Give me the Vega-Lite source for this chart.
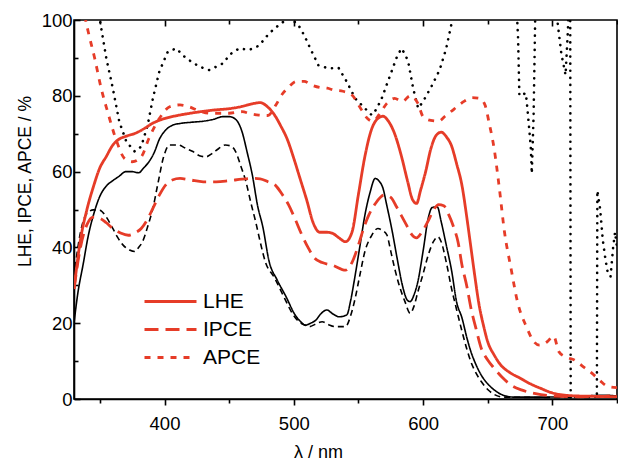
{
"$schema": "https://vega.github.io/schema/vega-lite/v6.json",
"width": 543, "height": 379,
"autosize": {"type": "none"},
"padding": {"left": 74, "top": 20, "right": 1, "bottom": 63},
"background": "white",
"config": {"font": "Liberation Sans", "view": {"stroke": "black", "strokeWidth": 1.6},
  "axis": {"grid": false, "labelColor": "black", "tickColor": "black", "domainColor": "black", "titleColor": "black", "labelFont": "Liberation Sans", "titleFont": "Liberation Sans", "titleFontWeight": "normal", "tickWidth": 1.6, "domainWidth": 1.6}},
"datasets": {
"red": [
{"s":"LHE","x":330,"y":29},{"s":"LHE","x":335,"y":42},{"s":"LHE","x":340,"y":50},{"s":"LHE","x":345,"y":56},{"s":"LHE","x":350,"y":61},{"s":"LHE","x":355,"y":64},{"s":"LHE","x":360,"y":67},{"s":"LHE","x":365,"y":68.6},{"s":"LHE","x":370,"y":69.3},{"s":"LHE","x":378,"y":70.2},{"s":"LHE","x":385,"y":71.5},{"s":"LHE","x":390,"y":72.6},{"s":"LHE","x":395,"y":73.4},{"s":"LHE","x":400,"y":74},{"s":"LHE","x":410,"y":74.8},{"s":"LHE","x":420,"y":75.4},{"s":"LHE","x":430,"y":75.9},{"s":"LHE","x":440,"y":76.3},{"s":"LHE","x":450,"y":76.6},{"s":"LHE","x":460,"y":77.2},{"s":"LHE","x":468,"y":77.9},{"s":"LHE","x":474,"y":78.2},{"s":"LHE","x":480,"y":77},{"s":"LHE","x":485,"y":75},{"s":"LHE","x":490,"y":72},{"s":"LHE","x":495,"y":68.5},{"s":"LHE","x":500,"y":63.5},{"s":"LHE","x":505,"y":58},{"s":"LHE","x":510,"y":52.5},{"s":"LHE","x":515,"y":46.5},{"s":"LHE","x":520,"y":44},{"s":"LHE","x":525,"y":44},{"s":"LHE","x":530,"y":43.7},{"s":"LHE","x":535,"y":42.5},{"s":"LHE","x":540,"y":41.5},{"s":"LHE","x":545,"y":44},{"s":"LHE","x":550,"y":54},{"s":"LHE","x":555,"y":64},{"s":"LHE","x":560,"y":71},{"s":"LHE","x":565,"y":74},{"s":"LHE","x":569,"y":74.6},{"s":"LHE","x":573,"y":73.4},{"s":"LHE","x":578,"y":70},{"s":"LHE","x":583,"y":64.4},{"s":"LHE","x":588,"y":57.5},{"s":"LHE","x":592,"y":52.5},{"s":"LHE","x":595,"y":51.6},{"s":"LHE","x":598,"y":55},{"s":"LHE","x":602,"y":60},{"s":"LHE","x":606,"y":66},{"s":"LHE","x":610,"y":69.5},{"s":"LHE","x":614,"y":70.4},{"s":"LHE","x":618,"y":69.2},{"s":"LHE","x":622,"y":66.8},{"s":"LHE","x":626,"y":62},{"s":"LHE","x":630,"y":56.5},{"s":"LHE","x":634,"y":47.5},{"s":"LHE","x":637,"y":40},{"s":"LHE","x":640,"y":32.5},{"s":"LHE","x":643,"y":25.5},{"s":"LHE","x":647,"y":19},{"s":"LHE","x":650,"y":15.1},{"s":"LHE","x":655,"y":11.6},{"s":"LHE","x":660,"y":9},{"s":"LHE","x":667,"y":7},{"s":"LHE","x":675,"y":5.5},{"s":"LHE","x":683,"y":4},{"s":"LHE","x":691,"y":2.8},{"s":"LHE","x":700,"y":1.6},{"s":"LHE","x":710,"y":1.0},{"s":"LHE","x":720,"y":0.8},{"s":"LHE","x":735,"y":0.7},{"s":"LHE","x":750,"y":0.6},
{"s":"IPCE","x":330,"y":29},{"s":"IPCE","x":335,"y":40},{"s":"IPCE","x":340,"y":46},{"s":"IPCE","x":345,"y":48},{"s":"IPCE","x":350,"y":47.7},{"s":"IPCE","x":355,"y":46.5},{"s":"IPCE","x":360,"y":45},{"s":"IPCE","x":366,"y":43.8},{"s":"IPCE","x":372,"y":43.2},{"s":"IPCE","x":377,"y":43.8},{"s":"IPCE","x":382,"y":45},{"s":"IPCE","x":387,"y":47.5},{"s":"IPCE","x":391,"y":50.3},{"s":"IPCE","x":396,"y":53.8},{"s":"IPCE","x":401,"y":56.5},{"s":"IPCE","x":406,"y":57.8},{"s":"IPCE","x":412,"y":58.2},{"s":"IPCE","x":420,"y":57.8},{"s":"IPCE","x":430,"y":57.3},{"s":"IPCE","x":440,"y":57.3},{"s":"IPCE","x":450,"y":57.6},{"s":"IPCE","x":460,"y":58},{"s":"IPCE","x":468,"y":58.2},{"s":"IPCE","x":474,"y":58.1},{"s":"IPCE","x":480,"y":57.3},{"s":"IPCE","x":486,"y":56.3},{"s":"IPCE","x":491,"y":54},{"s":"IPCE","x":496,"y":51.2},{"s":"IPCE","x":501,"y":47.5},{"s":"IPCE","x":506,"y":43.5},{"s":"IPCE","x":511,"y":40},{"s":"IPCE","x":516,"y":37.2},{"s":"IPCE","x":522,"y":36},{"s":"IPCE","x":530,"y":35.3},{"s":"IPCE","x":540,"y":34},{"s":"IPCE","x":545,"y":36},{"s":"IPCE","x":550,"y":40.6},{"s":"IPCE","x":554,"y":45},{"s":"IPCE","x":558,"y":48.5},{"s":"IPCE","x":563,"y":51.5},{"s":"IPCE","x":570,"y":53.8},{"s":"IPCE","x":575,"y":53.2},{"s":"IPCE","x":579,"y":51},{"s":"IPCE","x":583,"y":48.5},{"s":"IPCE","x":587,"y":46},{"s":"IPCE","x":591,"y":43.5},{"s":"IPCE","x":595,"y":42.5},{"s":"IPCE","x":599,"y":44},{"s":"IPCE","x":604,"y":47},{"s":"IPCE","x":608,"y":49.8},{"s":"IPCE","x":612,"y":51.3},{"s":"IPCE","x":616,"y":51},{"s":"IPCE","x":620,"y":48.5},{"s":"IPCE","x":624,"y":45},{"s":"IPCE","x":627,"y":41.5},{"s":"IPCE","x":630,"y":35.5},{"s":"IPCE","x":634,"y":29.5},{"s":"IPCE","x":637,"y":24},{"s":"IPCE","x":641,"y":18.5},{"s":"IPCE","x":645,"y":13.4},{"s":"IPCE","x":650,"y":10.3},{"s":"IPCE","x":655,"y":8.1},{"s":"IPCE","x":661,"y":5.8},{"s":"IPCE","x":668,"y":3.7},{"s":"IPCE","x":676,"y":2.4},{"s":"IPCE","x":686,"y":1.5},{"s":"IPCE","x":700,"y":0.8},{"s":"IPCE","x":720,"y":0.6},{"s":"IPCE","x":740,"y":0.7},{"s":"IPCE","x":750,"y":1.0},
{"s":"APCE","x":330,"y":125},{"s":"APCE","x":335,"y":110},{"s":"APCE","x":339,"y":100},{"s":"APCE","x":341,"y":96.9},{"s":"APCE","x":346,"y":89.9},{"s":"APCE","x":351,"y":82},{"s":"APCE","x":356,"y":75.8},{"s":"APCE","x":363,"y":68},{"s":"APCE","x":369,"y":63.5},{"s":"APCE","x":375,"y":62.6},{"s":"APCE","x":382,"y":63.9},{"s":"APCE","x":388,"y":68.8},{"s":"APCE","x":396,"y":74},{"s":"APCE","x":404,"y":77.1},{"s":"APCE","x":412,"y":77.6},{"s":"APCE","x":419,"y":77.1},{"s":"APCE","x":427,"y":76},{"s":"APCE","x":435,"y":75.4},{"s":"APCE","x":450,"y":75.4},{"s":"APCE","x":460,"y":75.8},{"s":"APCE","x":467,"y":75.2},{"s":"APCE","x":473,"y":74.9},{"s":"APCE","x":480,"y":74.8},{"s":"APCE","x":486,"y":77.5},{"s":"APCE","x":491,"y":80.4},{"s":"APCE","x":496,"y":82.3},{"s":"APCE","x":502,"y":83.8},{"s":"APCE","x":508,"y":83.8},{"s":"APCE","x":514,"y":82.8},{"s":"APCE","x":520,"y":82.2},{"s":"APCE","x":526,"y":82},{"s":"APCE","x":531,"y":81.5},{"s":"APCE","x":538,"y":81.2},{"s":"APCE","x":545,"y":80.2},{"s":"APCE","x":552,"y":76.5},{"s":"APCE","x":557,"y":74},{"s":"APCE","x":561,"y":73.3},{"s":"APCE","x":566,"y":75},{"s":"APCE","x":572,"y":78},{"s":"APCE","x":578,"y":79.3},{"s":"APCE","x":584,"y":78.5},{"s":"APCE","x":590,"y":80},{"s":"APCE","x":596,"y":78},{"s":"APCE","x":600,"y":74.5},{"s":"APCE","x":606,"y":73.5},{"s":"APCE","x":612,"y":73.3},{"s":"APCE","x":617,"y":74.6},{"s":"APCE","x":624,"y":76.5},{"s":"APCE","x":632,"y":78.6},{"s":"APCE","x":638,"y":79.5},{"s":"APCE","x":644,"y":79.3},{"s":"APCE","x":648,"y":77.5},{"s":"APCE","x":651,"y":73},{"s":"APCE","x":655,"y":66},{"s":"APCE","x":659,"y":55.6},{"s":"APCE","x":663,"y":44},{"s":"APCE","x":668,"y":34.5},{"s":"APCE","x":673,"y":25.7},{"s":"APCE","x":680,"y":19},{"s":"APCE","x":686,"y":15},{"s":"APCE","x":690,"y":14.2},{"s":"APCE","x":696,"y":15.1},{"s":"APCE","x":701,"y":16.6},{"s":"APCE","x":705,"y":12.5},{"s":"APCE","x":711,"y":11},{"s":"APCE","x":717,"y":10.3},{"s":"APCE","x":724,"y":8.5},{"s":"APCE","x":731,"y":6.7},{"s":"APCE","x":737,"y":4.8},{"s":"APCE","x":743,"y":3.3},{"s":"APCE","x":750,"y":3.0}
],
"black": [
{"s":"bLHE","x":330,"y":20},{"s":"bLHE","x":333,"y":28},{"s":"bLHE","x":337,"y":35.4},{"s":"bLHE","x":341,"y":43},{"s":"bLHE","x":345,"y":48.5},{"s":"bLHE","x":350,"y":53.5},{"s":"bLHE","x":355,"y":56.2},{"s":"bLHE","x":360,"y":57.6},{"s":"bLHE","x":365,"y":58.8},{"s":"bLHE","x":370,"y":60},{"s":"bLHE","x":375,"y":60},{"s":"bLHE","x":380,"y":59.7},{"s":"bLHE","x":384,"y":61},{"s":"bLHE","x":388,"y":62.6},{"s":"bLHE","x":392,"y":65},{"s":"bLHE","x":396,"y":68.5},{"s":"bLHE","x":401,"y":71},{"s":"bLHE","x":406,"y":72.2},{"s":"bLHE","x":412,"y":72.7},{"s":"bLHE","x":420,"y":73},{"s":"bLHE","x":430,"y":73.3},{"s":"bLHE","x":438,"y":73.8},{"s":"bLHE","x":445,"y":74.5},{"s":"bLHE","x":450,"y":74.5},{"s":"bLHE","x":455,"y":73.8},{"s":"bLHE","x":460,"y":70.5},{"s":"bLHE","x":464,"y":65},{"s":"bLHE","x":468,"y":59},{"s":"bLHE","x":472,"y":51},{"s":"bLHE","x":476,"y":45.5},{"s":"bLHE","x":481,"y":36.2},{"s":"bLHE","x":487,"y":31.5},{"s":"bLHE","x":494,"y":27},{"s":"bLHE","x":501,"y":22.2},{"s":"bLHE","x":505,"y":20.5},{"s":"bLHE","x":509,"y":19.5},{"s":"bLHE","x":513,"y":20},{"s":"bLHE","x":517,"y":20.8},{"s":"bLHE","x":521,"y":22.5},{"s":"bLHE","x":525.6,"y":23.5},{"s":"bLHE","x":530,"y":22.5},{"s":"bLHE","x":535,"y":21.7},{"s":"bLHE","x":541,"y":22.2},{"s":"bLHE","x":544,"y":26},{"s":"bLHE","x":547.5,"y":32.7},{"s":"bLHE","x":551,"y":40},{"s":"bLHE","x":555,"y":48.5},{"s":"bLHE","x":559,"y":54.5},{"s":"bLHE","x":563,"y":58.2},{"s":"bLHE","x":566,"y":57.5},{"s":"bLHE","x":569,"y":55.6},{"s":"bLHE","x":572,"y":51},{"s":"bLHE","x":576,"y":44.5},{"s":"bLHE","x":580,"y":37},{"s":"bLHE","x":584,"y":30},{"s":"bLHE","x":588,"y":26},{"s":"bLHE","x":590,"y":25.7},{"s":"bLHE","x":593,"y":27.5},{"s":"bLHE","x":596,"y":31},{"s":"bLHE","x":600,"y":39},{"s":"bLHE","x":604,"y":47.7},{"s":"bLHE","x":607,"y":50.5},{"s":"bLHE","x":611,"y":50.7},{"s":"bLHE","x":614,"y":46.8},{"s":"bLHE","x":618,"y":40.5},{"s":"bLHE","x":622,"y":34},{"s":"bLHE","x":626,"y":25.5},{"s":"bLHE","x":630,"y":21.5},{"s":"bLHE","x":634,"y":16},{"s":"bLHE","x":637,"y":12.5},{"s":"bLHE","x":641,"y":9},{"s":"bLHE","x":645,"y":6.3},{"s":"bLHE","x":650,"y":4},{"s":"bLHE","x":655,"y":2.4},{"s":"bLHE","x":662,"y":1},{"s":"bLHE","x":670,"y":0.5},{"s":"bLHE","x":690,"y":0.5},{"s":"bLHE","x":710,"y":0.6},{"s":"bLHE","x":725,"y":0.8},{"s":"bLHE","x":740,"y":1.0},{"s":"bLHE","x":750,"y":0.8},
{"s":"bIPCE","x":330,"y":32},{"s":"bIPCE","x":333,"y":40},{"s":"bIPCE","x":337,"y":46.8},{"s":"bIPCE","x":341,"y":49.3},{"s":"bIPCE","x":345,"y":49.9},{"s":"bIPCE","x":350,"y":49.8},{"s":"bIPCE","x":355,"y":48},{"s":"bIPCE","x":360,"y":45},{"s":"bIPCE","x":364,"y":42.5},{"s":"bIPCE","x":368,"y":40.6},{"s":"bIPCE","x":373,"y":39.3},{"s":"bIPCE","x":377,"y":38.9},{"s":"bIPCE","x":380,"y":40},{"s":"bIPCE","x":383,"y":41.5},{"s":"bIPCE","x":387,"y":45.5},{"s":"bIPCE","x":391,"y":50.3},{"s":"bIPCE","x":395,"y":57},{"s":"bIPCE","x":399,"y":63.5},{"s":"bIPCE","x":404,"y":67},{"s":"bIPCE","x":411,"y":67},{"s":"bIPCE","x":416,"y":66.2},{"s":"bIPCE","x":422,"y":65.3},{"s":"bIPCE","x":427,"y":64.2},{"s":"bIPCE","x":432,"y":63.9},{"s":"bIPCE","x":437,"y":64.8},{"s":"bIPCE","x":442,"y":66.1},{"s":"bIPCE","x":447,"y":67},{"s":"bIPCE","x":451,"y":66.8},{"s":"bIPCE","x":455,"y":65.3},{"s":"bIPCE","x":459,"y":61.5},{"s":"bIPCE","x":463,"y":57.3},{"s":"bIPCE","x":467,"y":51.5},{"s":"bIPCE","x":470.5,"y":46.8},{"s":"bIPCE","x":474,"y":41.5},{"s":"bIPCE","x":478,"y":36.2},{"s":"bIPCE","x":485,"y":32},{"s":"bIPCE","x":493,"y":26.5},{"s":"bIPCE","x":499,"y":22.5},{"s":"bIPCE","x":504,"y":20.4},{"s":"bIPCE","x":508,"y":19.6},{"s":"bIPCE","x":512,"y":19.1},{"s":"bIPCE","x":517,"y":19.8},{"s":"bIPCE","x":522,"y":20.4},{"s":"bIPCE","x":527,"y":19.6},{"s":"bIPCE","x":532,"y":19.1},{"s":"bIPCE","x":540,"y":19.1},{"s":"bIPCE","x":544,"y":22},{"s":"bIPCE","x":547.5,"y":26.6},{"s":"bIPCE","x":551,"y":32.5},{"s":"bIPCE","x":555,"y":38.9},{"s":"bIPCE","x":560,"y":43},{"s":"bIPCE","x":565,"y":45},{"s":"bIPCE","x":568,"y":44.6},{"s":"bIPCE","x":572,"y":43.3},{"s":"bIPCE","x":575,"y":39},{"s":"bIPCE","x":578,"y":34.5},{"s":"bIPCE","x":582,"y":29.5},{"s":"bIPCE","x":586,"y":25.7},{"s":"bIPCE","x":590,"y":22.6},{"s":"bIPCE","x":593,"y":24.5},{"s":"bIPCE","x":596,"y":28.3},{"s":"bIPCE","x":600,"y":33},{"s":"bIPCE","x":604,"y":38},{"s":"bIPCE","x":608,"y":41.5},{"s":"bIPCE","x":611.5,"y":42.8},{"s":"bIPCE","x":614,"y":41.5},{"s":"bIPCE","x":618,"y":36},{"s":"bIPCE","x":622,"y":29.2},{"s":"bIPCE","x":626,"y":23.5},{"s":"bIPCE","x":630,"y":18},{"s":"bIPCE","x":634,"y":13},{"s":"bIPCE","x":637,"y":9.8},{"s":"bIPCE","x":641,"y":6.8},{"s":"bIPCE","x":645,"y":4.6},{"s":"bIPCE","x":650,"y":2.5},{"s":"bIPCE","x":655,"y":1.2},{"s":"bIPCE","x":662,"y":0.5},{"s":"bIPCE","x":700,"y":0.4},{"s":"bIPCE","x":750,"y":0.5}
],
"blackdot": [
{"s":"bAPCE","x":330,"y":140},{"s":"bAPCE","x":345,"y":112},{"s":"bAPCE","x":350,"y":100},{"s":"bAPCE","x":355,"y":89.9},{"s":"bAPCE","x":360,"y":82},{"s":"bAPCE","x":365,"y":73.2},{"s":"bAPCE","x":370.5,"y":67.9},{"s":"bAPCE","x":377,"y":65.3},{"s":"bAPCE","x":382,"y":66.6},{"s":"bAPCE","x":387,"y":72.3},{"s":"bAPCE","x":391,"y":79.3},{"s":"bAPCE","x":396,"y":86.4},{"s":"bAPCE","x":402.5,"y":91.6},{"s":"bAPCE","x":409,"y":92.5},{"s":"bAPCE","x":416.7,"y":89.9},{"s":"bAPCE","x":427,"y":87.7},{"s":"bAPCE","x":434.6,"y":86.8},{"s":"bAPCE","x":445,"y":88.5},{"s":"bAPCE","x":451,"y":91},{"s":"bAPCE","x":457.7,"y":92.5},{"s":"bAPCE","x":465.4,"y":92.1},{"s":"bAPCE","x":473,"y":93.2},{"s":"bAPCE","x":481,"y":96.5},{"s":"bAPCE","x":488.5,"y":98.7},{"s":"bAPCE","x":496,"y":100.5},{"s":"bAPCE","x":503,"y":99},{"s":"bAPCE","x":508,"y":96},{"s":"bAPCE","x":514,"y":91.6},{"s":"bAPCE","x":519,"y":88.1},{"s":"bAPCE","x":527,"y":87.2},{"s":"bAPCE","x":534.6,"y":87.4},{"s":"bAPCE","x":541,"y":83.7},{"s":"bAPCE","x":547.5,"y":79.3},{"s":"bAPCE","x":555,"y":76.7},{"s":"bAPCE","x":560.3,"y":74.9},{"s":"bAPCE","x":564,"y":76.5},{"s":"bAPCE","x":568,"y":79.3},{"s":"bAPCE","x":575.6,"y":86.4},{"s":"bAPCE","x":580,"y":90.5},{"s":"bAPCE","x":583.3,"y":92.5},{"s":"bAPCE","x":586,"y":91},{"s":"bAPCE","x":588.5,"y":89},{"s":"bAPCE","x":592.3,"y":82},{"s":"bAPCE","x":596.2,"y":76.7},{"s":"bAPCE","x":600,"y":78.5},{"s":"bAPCE","x":606.4,"y":82.4},{"s":"bAPCE","x":612.8,"y":86.8},{"s":"bAPCE","x":617.9,"y":92.5},{"s":"bAPCE","x":621.8,"y":98.7},{"s":"bAPCE","x":626,"y":106},{"s":"bAPCE","x":640,"y":120},{"s":"bAPCE","x":660,"y":120},{"s":"bAPCE","x":672,"y":106},{"s":"bAPCE","x":673.5,"y":95},{"s":"bAPCE","x":674.5,"y":80},{"s":"bAPCE","x":679.5,"y":80.7},{"s":"bAPCE","x":680.8,"y":76.3},{"s":"bAPCE","x":683.3,"y":66.6},{"s":"bAPCE","x":684.1,"y":59.5},{"s":"bAPCE","x":685.5,"y":75},{"s":"bAPCE","x":686.7,"y":100},{"s":"bAPCE","x":688,"y":115},{"s":"bAPCE","x":700,"y":115},{"s":"bAPCE","x":703.8,"y":100},{"s":"bAPCE","x":707,"y":91},{"s":"bAPCE","x":710.2,"y":85.5},{"s":"bAPCE","x":712,"y":97},{"s":"bAPCE","x":713,"y":110},{"s":"bAPCE","x":713.8,"y":110},{"s":"bAPCE","x":714.2,"y":-5},{"s":"bAPCE","x":734.4,"y":-5},{"s":"bAPCE","x":734.8,"y":55},{"s":"bAPCE","x":737,"y":50},{"s":"bAPCE","x":739,"y":42},{"s":"bAPCE","x":741,"y":37},{"s":"bAPCE","x":743,"y":33},{"s":"bAPCE","x":745,"y":32.3},{"s":"bAPCE","x":747,"y":40},{"s":"bAPCE","x":748.5,"y":44},{"s":"bAPCE","x":750,"y":40}
]
},
"layer": [
{
 "data": {"name": "black"},
 "mark": {"type": "line", "clip": true, "color": "black", "strokeWidth": 1.6, "interpolate": "monotone"},
 "encoding": {
  "x": {"field": "x", "type": "quantitative", "scale": {"domain": [330, 750], "nice": false, "zero": false},
        "axis": {"orient": "bottom", "values": [400, 500, 600, 700], "tickSize": 6, "labelFontSize": 18.5, "labelPadding": 9, "title": "λ / nm", "titleFontSize": 18, "titleX": 244, "titleY": 44, "titleBaseline": "top", "titleAnchor": null, "titleAlign": "center", "domain": true}},
  "y": {"field": "y", "type": "quantitative", "scale": {"domain": [0, 100], "nice": false, "zero": false},
        "axis": {"orient": "left", "values": [0, 20, 40, 60, 80, 100], "tickSize": -6, "labelFontSize": 18.5, "labelPadding": 8, "title": "LHE, IPCE, APCE / %", "titleFontSize": 17.5, "titleX": -44, "titleY": 161, "titleBaseline": "alphabetic", "titleAlign": "center", "titleAnchor": null, "domain": true}},
  "strokeDash": {"field": "s", "type": "nominal",
     "scale": {"domain": ["LHE", "IPCE", "APCE", "bLHE", "bIPCE", "bAPCE"], "range": [[1, 0], [14, 7], [6, 7], [1, 0], [6, 4], [0.1, 7]]},
     "legend": {"orient": "none", "legendX": 82, "legendY": 267, "title": null, "values": ["LHE", "IPCE", "APCE"], "symbolType": "M-2,0H2", "symbolSize": 676, "symbolStrokeWidth": 3, "symbolStrokeColor": "#e63c28", "symbolFillColor": "transparent", "labelFontSize": 21, "labelColor": "black", "labelOffset": 18, "rowPadding": 3,
       "encode": {"symbols": {"update": {"stroke": {"value": "#e63c28"}, "strokeWidth": {"value": 3}, "fill": {"value": "transparent"}}}}}}
 }
},
{
 "data": {"name": "blackdot"},
 "mark": {"type": "line", "clip": true, "color": "black", "strokeWidth": 2.6, "interpolate": "linear", "strokeCap": "round"},
 "encoding": {
  "x": {"field": "x", "type": "quantitative", "axis": null},
  "y": {"field": "y", "type": "quantitative", "axis": null},
  "strokeDash": {"field": "s", "type": "nominal"}
 }
},
{
 "data": {"name": "red"},
 "mark": {"type": "line", "clip": true, "color": "#e63c28", "strokeWidth": 2.8, "interpolate": "monotone"},
 "encoding": {
  "x": {"field": "x", "type": "quantitative", "axis": {"orient": "bottom", "values": [350, 450, 550, 650, 750], "tickSize": 4, "labels": false, "domain": false, "title": null}},
  "y": {"field": "y", "type": "quantitative", "axis": {"orient": "left", "values": [10, 30, 50, 70, 90], "tickSize": -4, "labels": false, "domain": false, "title": null}},
  "strokeDash": {"field": "s", "type": "nominal"}
 }
},
{
 "data": {"name": "black"},
 "mark": {"type": "point", "opacity": 0},
 "encoding": {
  "x": {"field": "x", "type": "quantitative", "axis": {"orient": "top", "values": [400, 500, 600, 700], "tickSize": -6, "labels": false, "domain": false, "title": null}},
  "y": {"field": "y", "type": "quantitative", "axis": null}
 }
},
{
 "data": {"name": "black"},
 "mark": {"type": "point", "opacity": 0},
 "encoding": {
  "x": {"field": "x", "type": "quantitative", "axis": {"orient": "top", "values": [350, 450, 550, 650, 750], "tickSize": -4, "labels": false, "domain": false, "title": null}},
  "y": {"field": "y", "type": "quantitative", "axis": null}
 }
}
],
"resolve": {"axis": {"x": "independent", "y": "independent"}}
}
